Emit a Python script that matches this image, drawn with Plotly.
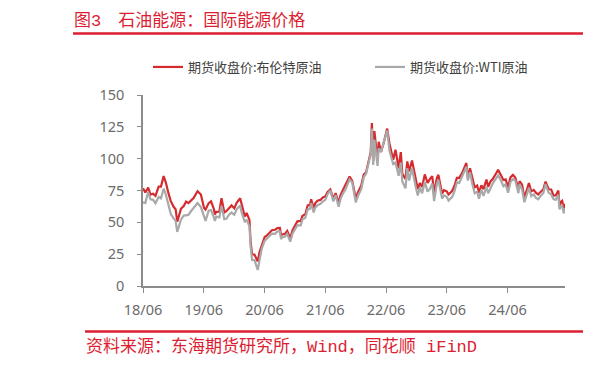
import plotly.graph_objects as go

# ---------------- data ----------------
dates = [
    "2018-06-01", "2018-06-15", "2018-07-02", "2018-07-16", "2018-08-01", "2018-08-15",
    "2018-09-03", "2018-09-17", "2018-10-03", "2018-10-16", "2018-11-01", "2018-11-15",
    "2018-12-03", "2018-12-14", "2018-12-24", "2019-01-02", "2019-01-15", "2019-02-01",
    "2019-02-15", "2019-03-01", "2019-03-15", "2019-04-01", "2019-04-25", "2019-05-15",
    "2019-06-03", "2019-06-12", "2019-07-01", "2019-07-15", "2019-08-01", "2019-08-07",
    "2019-08-15", "2019-09-03", "2019-09-16", "2019-10-03", "2019-10-15", "2019-11-01",
    "2019-11-15", "2019-12-02", "2019-12-16", "2020-01-06", "2020-01-15", "2020-02-03",
    "2020-02-14", "2020-03-02", "2020-03-09", "2020-03-18", "2020-04-01", "2020-04-21",
    "2020-05-01", "2020-05-15", "2020-06-01", "2020-06-15", "2020-07-01", "2020-07-15",
    "2020-08-03", "2020-08-17", "2020-09-01", "2020-09-08", "2020-09-15", "2020-10-01",
    "2020-10-15", "2020-11-02", "2020-11-16", "2020-12-01", "2020-12-15", "2021-01-04",
    "2021-01-15", "2021-02-01", "2021-02-15", "2021-03-01", "2021-03-08", "2021-03-23",
    "2021-04-01", "2021-04-15", "2021-05-03", "2021-05-17", "2021-06-01", "2021-06-15",
    "2021-07-01", "2021-07-19", "2021-08-02", "2021-08-20", "2021-09-01", "2021-09-15",
    "2021-10-01", "2021-10-25", "2021-11-10", "2021-12-01", "2021-12-15", "2022-01-03",
    "2022-01-18", "2022-02-01", "2022-02-14", "2022-03-01", "2022-03-08", "2022-03-16",
    "2022-03-23", "2022-04-11", "2022-04-18", "2022-05-02", "2022-05-17", "2022-06-08",
    "2022-06-22", "2022-07-05", "2022-07-14", "2022-07-28", "2022-08-16", "2022-08-29",
    "2022-09-07", "2022-09-26", "2022-10-07", "2022-10-18", "2022-11-04", "2022-11-28",
    "2022-12-09", "2022-12-22", "2023-01-04", "2023-01-20", "2023-02-06", "2023-02-20",
    "2023-03-06", "2023-03-17", "2023-04-03", "2023-04-12", "2023-05-04", "2023-05-15",
    "2023-06-01", "2023-06-12", "2023-07-03", "2023-07-17", "2023-08-01", "2023-08-15",
    "2023-09-01", "2023-09-27", "2023-10-06", "2023-10-19", "2023-11-01", "2023-11-16",
    "2023-12-01", "2023-12-12", "2023-12-26", "2024-01-08", "2024-01-26", "2024-02-05",
    "2024-02-20", "2024-03-01", "2024-03-19", "2024-04-05", "2024-04-22", "2024-05-07",
    "2024-05-20", "2024-06-04", "2024-06-18", "2024-07-03", "2024-07-17", "2024-08-05",
    "2024-08-12", "2024-08-27", "2024-09-10", "2024-09-24", "2024-10-07", "2024-10-21",
    "2024-11-05", "2024-11-18", "2024-12-02", "2024-12-16", "2025-01-02", "2025-01-15",
    "2025-02-03", "2025-02-18", "2025-03-04", "2025-03-17", "2025-04-02", "2025-04-09",
    "2025-04-16", "2025-04-25", "2025-05-05", "2025-05-12",
]

brent = [
    76.8, 73.4, 77.3, 71.8, 72.4, 70.8,
    78.1, 78.1, 86.3, 81.4, 72.9, 66.6,
    62.0, 60.3, 50.5, 54.9, 60.6, 62.8,
    66.3, 65.1, 67.2, 69.0, 74.4, 71.8,
    61.3, 60.0, 65.1, 66.5, 60.5, 56.2,
    58.2, 58.3, 69.0, 57.7, 58.7, 61.7,
    63.3, 61.0, 65.3, 68.9, 64.0, 54.5,
    57.3, 51.9, 34.4, 24.9, 24.7, 19.3,
    26.4, 32.5, 38.3, 39.7, 42.0, 43.8,
    44.2, 45.4, 45.6, 39.8, 40.5, 40.9,
    43.2, 37.5, 43.8, 47.4, 50.8, 51.1,
    55.1, 56.4, 63.3, 63.7, 68.2, 60.8,
    64.9, 66.9, 67.6, 69.5, 70.3, 73.9,
    75.8, 68.6, 72.9, 65.2, 71.6, 75.5,
    79.3, 86.0, 82.6, 68.9, 73.9, 78.9,
    87.5, 89.2, 96.5, 105.0, 128.0, 98.0,
    121.6, 98.5, 113.2, 105.2, 111.9, 123.6,
    111.7, 102.8, 99.1, 107.1, 92.3, 105.1,
    88.0, 84.1, 97.9, 90.0, 98.6, 83.2,
    76.1, 80.9, 77.8, 87.6, 80.9, 84.1,
    86.2, 73.0, 84.9, 87.3, 72.5, 75.2,
    74.3, 71.8, 74.6, 78.5, 84.9, 84.9,
    88.6, 96.6, 84.6, 92.4, 84.6, 77.4,
    78.9, 73.2, 79.1, 76.1, 83.6, 78.0,
    82.3, 83.5, 87.4, 91.2, 87.0, 83.2,
    83.7, 77.5, 85.3, 87.3, 85.1, 76.3,
    82.3, 79.6, 69.2, 75.2, 80.9, 74.3,
    75.5, 73.3, 71.8, 73.9, 75.9, 82.0,
    76.0, 75.8, 71.0, 71.1, 74.9, 62.8,
    65.9, 66.9, 60.2, 64.5,
]

wti = [
    65.8, 65.1, 73.9, 68.1, 67.7, 65.0,
    69.9, 68.9, 76.4, 71.9, 63.7, 56.5,
    52.9, 51.2, 42.5, 46.5, 52.1, 55.3,
    55.6, 55.8, 58.5, 61.6, 65.2, 62.0,
    53.3, 51.1, 59.1, 59.6, 53.9, 51.1,
    54.5, 53.9, 62.9, 52.5, 52.8, 56.2,
    57.7, 55.9, 60.2, 63.3, 57.8, 50.1,
    52.1, 46.8, 31.1, 20.4, 20.3, 12.6,
    19.8, 29.4, 35.4, 37.1, 39.8, 41.2,
    41.0, 42.9, 42.8, 36.8, 38.3, 38.7,
    40.9, 34.8, 41.3, 44.6, 47.6, 47.6,
    52.4, 53.6, 60.1, 60.6, 65.1, 57.8,
    61.5, 63.5, 64.5, 66.3, 67.7, 72.1,
    75.2, 66.4, 71.3, 62.3, 68.6, 72.6,
    75.9, 83.8, 81.3, 65.6, 70.9, 76.1,
    85.4, 88.2, 95.5, 103.4, 123.7, 95.0,
    114.9, 94.3, 108.2, 105.2, 112.4, 122.1,
    106.2, 99.5, 95.8, 97.0, 86.5, 97.0,
    81.9, 76.7, 92.6, 82.8, 92.6, 77.2,
    71.0, 77.5, 72.8, 81.6, 74.1, 76.3,
    80.5, 66.7, 80.4, 83.3, 68.6, 71.1,
    70.1, 67.1, 69.8, 74.2, 81.4, 81.0,
    85.6, 93.7, 82.8, 89.4, 80.4, 72.9,
    74.1, 68.6, 75.6, 70.8, 78.0, 72.8,
    77.0, 79.9, 83.5, 86.9, 82.9, 78.4,
    79.8, 73.3, 81.6, 83.9, 82.9, 72.9,
    80.1, 75.5, 65.8, 71.6, 77.1, 70.6,
    72.0, 69.2, 68.1, 70.7, 73.1, 80.0,
    73.2, 71.9, 68.3, 67.6, 71.7, 60.1,
    62.5, 63.0, 57.1, 61.0,
]

series_names = ["期货收盘价:布伦特原油", "期货收盘价:WTI原油"]
x_tick_vals = ["2018-06-01", "2019-06-01", "2020-06-01", "2021-06-01",
               "2022-06-01", "2023-06-01", "2024-06-01"]
x_tick_text = ["18/06", "19/06", "20/06", "21/06", "22/06", "23/06", "24/06"]
y_tick_vals = [0, 25, 50, 75, 100, 125, 150]

title_text = "图3\u3000石油能源：国际能源价格"
source_text = "资料来源：东海期货研究所，Wind，同花顺 iFinD"

# ---------------- layout helpers ----------------
# The page body has an 8px default margin; positions below are given in
# window pixels and converted to paper coordinates.
OFF = 8
W, H = 611 - OFF, 365 - OFF
L, T = 143 - OFF, 95 - OFF
PW, PH = 422, 191
R, B = W - L - PW, H - T - PH


def px(x):
    return (x - 143) / PW


def py(y):
    return (286 - y) / PH


RED = "#DC1E32"
BRENT_C = "#D52B2E"
WTI_C = "#A9A9A9"
AX_C = "#8C8C8C"
TICK_FONT = dict(family="Noto Sans, Open Sans, sans-serif", size=14.5, color="#6B6B6B")
LEG_FONT = dict(family="Noto Sans CJK SC, sans-serif", size=13, color="#404040")

fig = go.Figure()
fig.add_trace(go.Scatter(x=dates, y=brent, mode="lines", name=series_names[0],
                         line=dict(color=BRENT_C, width=2.2), legend="legend"))
fig.add_trace(go.Scatter(x=dates, y=wti, mode="lines", name=series_names[1],
                         line=dict(color=WTI_C, width=2.2), legend="legend2"))

fig.update_layout(
    width=W, height=H,
    margin=dict(l=L, r=R, t=T, b=B, pad=0),
    paper_bgcolor="white", plot_bgcolor="white",
    showlegend=True,
    legend=dict(orientation="h", x=px(148), y=py(67), xanchor="left", yanchor="middle",
                font=LEG_FONT, bgcolor="rgba(0,0,0,0)", itemwidth=30),
    legend2=dict(orientation="h", x=px(370), y=py(67), xanchor="left", yanchor="middle",
                 font=LEG_FONT, bgcolor="rgba(0,0,0,0)", itemwidth=30),
    xaxis=dict(type="date", range=["2018-06-01", "2025-05-12"],
               tickvals=x_tick_vals, ticktext=x_tick_text,
               showgrid=False, zeroline=False, showline=True, linecolor=AX_C, linewidth=1.5,
               ticks="outside", ticklen=5, tickcolor=AX_C, tickwidth=1.2,
               tickfont=TICK_FONT, ticklabelstandoff=5),
    yaxis=dict(range=[0, 150], tickvals=y_tick_vals,
               showgrid=False, zeroline=False, showline=True, linecolor=AX_C, linewidth=1.5,
               ticks="outside", ticklen=4, tickcolor=AX_C, tickwidth=1.2,
               tickfont=TICK_FONT, ticklabelstandoff=10),
)

title_font = dict(family="Liberation Mono, Noto Sans CJK SC, monospace", size=17, color=RED)
src_font = dict(family="Liberation Mono, Noto Sans CJK SC, monospace", size=17, color=RED)

fig.add_annotation(text=title_text, xref="paper", yref="paper", x=px(72), y=py(21),
                   xanchor="left", yanchor="middle", showarrow=False, font=title_font)
fig.add_annotation(text="图4", xref="paper", yref="paper", x=px(607), y=py(21),
                   xanchor="left", yanchor="middle", showarrow=False, font=title_font)
fig.add_annotation(text=source_text, xref="paper", yref="paper", x=px(84), y=py(347),
                   xanchor="left", yanchor="middle", showarrow=False, font=src_font)
fig.add_annotation(text="资料", xref="paper", yref="paper", x=px(606), y=py(347),
                   xanchor="left", yanchor="middle", showarrow=False, font=src_font)

for y0, x0, x1 in [(33.5, 73, 583), (33.5, 607, 620), (331.5, 85, 583), (331.5, 607, 620)]:
    fig.add_shape(type="line", xref="paper", yref="paper", x0=px(x0), x1=px(x1),
                  y0=py(y0), y1=py(y0), line=dict(color=RED, width=2.5))

fig.write_html("out.html")
